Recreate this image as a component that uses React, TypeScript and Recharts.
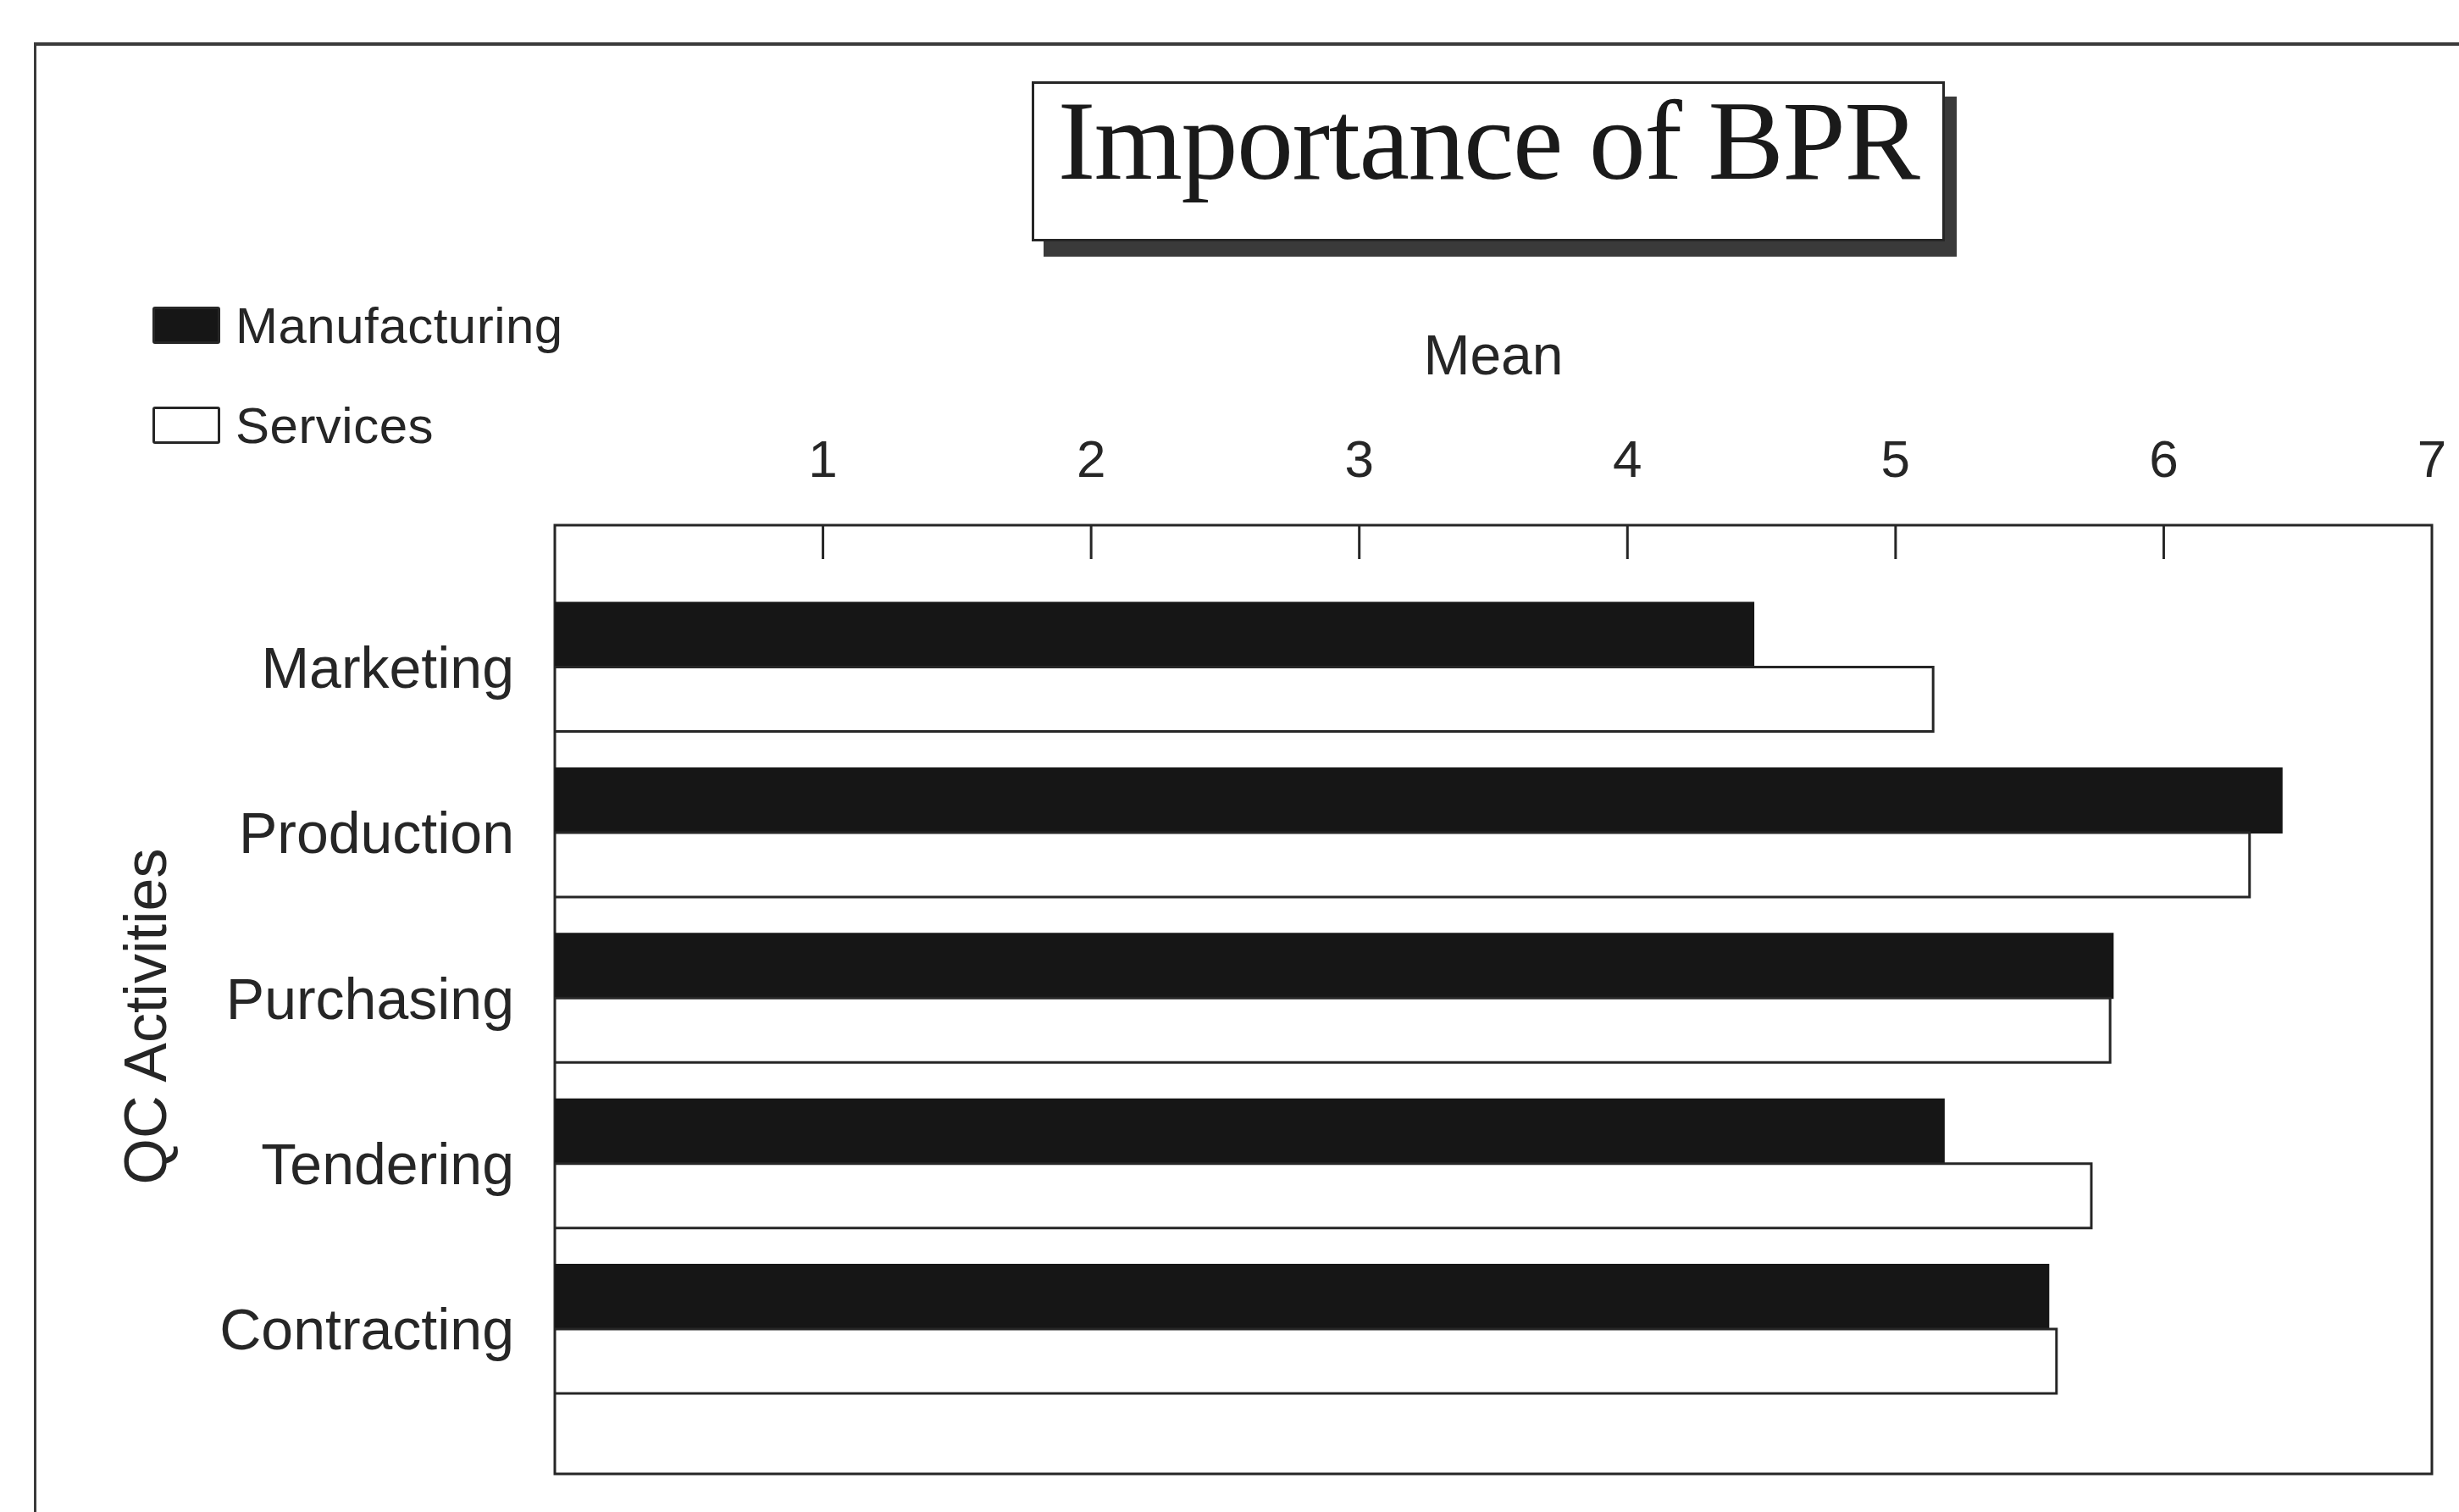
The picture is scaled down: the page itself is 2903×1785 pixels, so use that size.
import React from "react";
import {
  BarChart,
  Bar,
  XAxis,
  YAxis,
  Legend,
  ReferenceArea,
} from "recharts";

const categories = ["Marketing", "Production", "Purchasing", "Tendering", "Contracting"];
const manufacturing = [4.47, 6.44, 5.81, 5.18, 5.57];
const services = [5.14, 6.32, 5.8, 5.73, 5.6];
const meanTicks = [1, 2, 3, 4, 5, 6, 7];
const tickMarks = [1, 2, 3, 4, 5, 6];

const data = categories.map((name, i) => ({
  name,
  manufacturing: manufacturing[i],
  services: services[i],
}));

const SANS = '"Liberation Sans", Arial, Helvetica, sans-serif';
const INK = "#262626";

const LegendContent = (props: any) => {
  const { payload } = props;
  return (
    <div style={{ fontFamily: SANS }}>
      {(payload || []).map((entry: any, i: number) => (
        <div
          key={`leg-${i}`}
          style={{ display: "flex", alignItems: "center", height: 118 }}
        >
          <span
            style={{
              display: "inline-block",
              width: 80,
              height: 44,
              boxSizing: "border-box",
              background: entry.color,
              border: `3px solid ${INK}`,
              borderRadius: 3,
              marginRight: 18,
            }}
          />
          <span style={{ fontSize: 60, color: INK, letterSpacing: 0.5 }}>{entry.value}</span>
        </div>
      ))}
    </div>
  );
};

const SideLabel = (props: any) => {
  const { viewBox } = props;
  const x = viewBox.x + 72;
  const y = viewBox.y + viewBox.height / 2 + 20;
  return (
    <text
      x={x}
      y={y}
      transform={`rotate(-90, ${x}, ${y})`}
      textAnchor="middle"
      dominantBaseline="central"
      fontFamily={SANS}
      fontSize={70}
      fill={INK}
    >
      QC Activities
    </text>
  );
};

export default function App() {
  return (
    <div
      style={{
        position: "absolute",
        left: 0,
        top: 0,
        width: 2903,
        height: 1785,
        overflow: "hidden",
        background: "#fff",
      }}
    >
      {/* outer frame of the scanned figure */}
      <div
        style={{
          position: "absolute",
          left: 40,
          top: 50,
          width: 2863,
          height: 1735,
          borderLeft: "3px solid #3a3a3a",
          borderTop: "4px solid #3a3a3a",
        }}
      />
      {/* title box */}
      <div
        style={{
          position: "absolute",
          left: 1218,
          top: 96,
          width: 1078,
          height: 189,
          boxSizing: "border-box",
          border: `3px solid ${INK}`,
          background: "#fff",
          boxShadow: "14px 18px 0 #3a3a3a",
          textAlign: "center",
          fontFamily: '"Liberation Serif", "Times New Roman", serif',
          fontSize: 134,
          lineHeight: "134px",
          paddingTop: 0,
          color: "#1a1a1a",
          letterSpacing: -1.5,
        }}
      >
        Importance of BPR
      </div>
      <div style={{ position: "absolute", left: 0, top: 0 }}>
        <BarChart
          width={2903}
          height={1785}
          data={data}
          layout="vertical"
          margin={{ top: 370, right: 32, bottom: 45, left: 100 }}
          barCategoryGap="11%"
          barGap={0}
        >
          <XAxis
            xAxisId="lbl"
            type="number"
            orientation="top"
            domain={[0, 7]}
            allowDataOverflow
            ticks={meanTicks}
            height={250}
            axisLine={false}
            tickLine={false}
            tickSize={0}
            tickMargin={57}
            tick={{ fontSize: 62, fill: INK, fontFamily: SANS }}
            label={{
              value: "Mean",
              position: "insideTop",
              offset: 25,
              fontSize: 66,
              fill: INK,
              fontFamily: SANS,
            }}
          />
          <XAxis
            type="number"
            orientation="top"
            mirror
            domain={[0, 7]}
            allowDataOverflow
            ticks={tickMarks}
            axisLine={false}
            tickSize={40}
            tickLine={{ stroke: INK, strokeWidth: 3 }}
            tickFormatter={() => ""}
          />
          <YAxis
            type="category"
            dataKey="name"
            width={555}
            axisLine={false}
            tickLine={false}
            tickSize={0}
            tickMargin={48}
            padding={{ top: 70, bottom: 73 }}
            tick={{ fontSize: 68, fill: INK, fontFamily: SANS }}
            label={<SideLabel />}
          />
          <YAxis yAxisId="frame" type="number" domain={[0, 1]} hide orientation="right" />
          <ReferenceArea
            yAxisId="frame"
            x1={0}
            x2={7}
            fill="none"
            stroke={INK}
            strokeWidth={3}
            ifOverflow="visible"
          />
          <Legend
            layout="horizontal"
            verticalAlign="middle"
            align="center"
            content={<LegendContent />}
            wrapperStyle={{ left: 180, top: 325, width: 700 }}
          />
          <Bar
            dataKey="manufacturing"
            name="Manufacturing"
            fill="#161616"
            stroke="#161616"
            strokeWidth={2}
            isAnimationActive={false}
          />
          <Bar
            dataKey="services"
            name="Services"
            fill="#ffffff"
            stroke={INK}
            strokeWidth={3}
            isAnimationActive={false}
          />
        </BarChart>
      </div>
    </div>
  );
}
